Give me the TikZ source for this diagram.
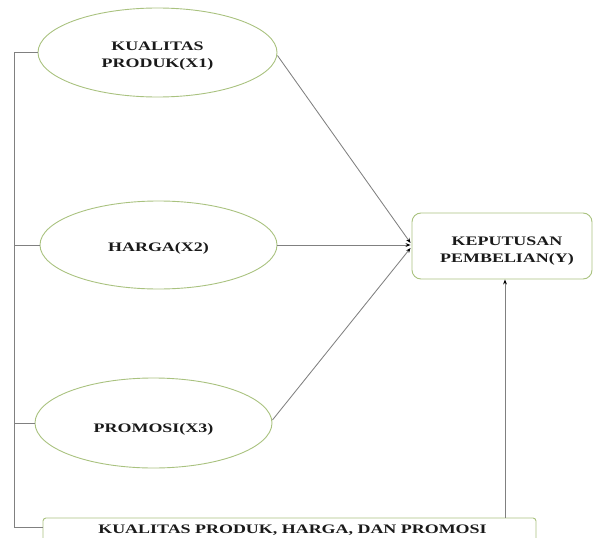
\documentclass[tikz,border=0pt]{standalone}
\usepackage{fontspec}
\newfontfamily\lbl[FakeStretch=1.38]{Liberation Serif}
\usetikzlibrary{arrows.meta,calc,shapes.geometric}
\definecolor{ellgreen}{HTML}{A9C27F}
\definecolor{linegray}{HTML}{808080}
\definecolor{txt}{HTML}{1A1A1A}
\newcommand{\lift}[1]{\rule{0pt}{#1}}
\tikzset{
  varell/.style={ellipse, draw=ellgreen, line width=0.9pt, inner sep=0pt, align=center,
    font=\lbl\bfseries\fontsize{13}{17}\selectfont, text=txt},
  ybox/.style={draw=ellgreen, line width=0.9pt, rounded corners=9pt, inner sep=0pt, align=center,
    minimum width=180pt, minimum height=66pt, font=\lbl\bfseries\fontsize{13}{16.5}\selectfont, text=txt},
  zbox/.style={draw=ellgreen, line width=0.9pt, rounded corners=3pt, inner sep=0pt,
    minimum width=493pt, minimum height=24pt, font=\lbl\bfseries\fontsize{13}{16}\selectfont, text=txt},
  conn/.style={draw=linegray, line width=0.85pt},
  arr/.style={conn, -{Stealth[length=5pt,width=3.8pt,black]}},
}
\begin{document}
\begin{tikzpicture}[x=1pt,y=-1pt]
\useasboundingbox (0,0) rectangle (595,538);
\clip (0,0) rectangle (595,538);
\node[varell, minimum width=239pt, minimum height=89pt] (x1) at (157.5,52.5) {\lift{16pt}KUALITAS\\PRODUK(X1)};
\node[varell, minimum width=237pt, minimum height=88pt] (x2) at (158.5,245) {\lift{15pt}HARGA(X2)};
\node[varell, minimum width=237pt, minimum height=90pt] (x3) at (153.5,423) {\lift{21pt}PROMOSI(X3)};
\node[ybox] (y) at (502,246) {\lift{18.5pt}\hspace*{10pt}KEPUTUSAN\\\hspace*{10pt}PEMBELIAN(Y)};
\node[zbox] (z) at (289.5,530) {\hspace*{6pt}KUALITAS PRODUK, HARGA, DAN PROMOSI};
\coordinate (trunk) at (14,0);
\coordinate (vx) at (505,0);
% left trunk
\draw[conn] (x1.west) -- (x1.west -| trunk) -- ([yshift=3pt]z.west -| trunk) -- ([yshift=3pt]z.west);
\draw[conn] (x2.west) -- (x2.west -| trunk);
\draw[conn] (x3.west) -- (x3.west -| trunk);
% arrows to Y
\draw[arr] ([yshift=-3pt]x1.east) -- ([xshift=-1pt,yshift=3pt]y.west);
\draw[arr] (x2.east) -- ([xshift=-1pt,yshift=1pt]y.west);
\draw[arr] ([yshift=3pt]x3.east) -- ([xshift=-1pt,yshift=-2pt]y.west);
\draw[arr] (z.north -| vx) -- (y.south -| vx);
\end{tikzpicture}
\end{document}
